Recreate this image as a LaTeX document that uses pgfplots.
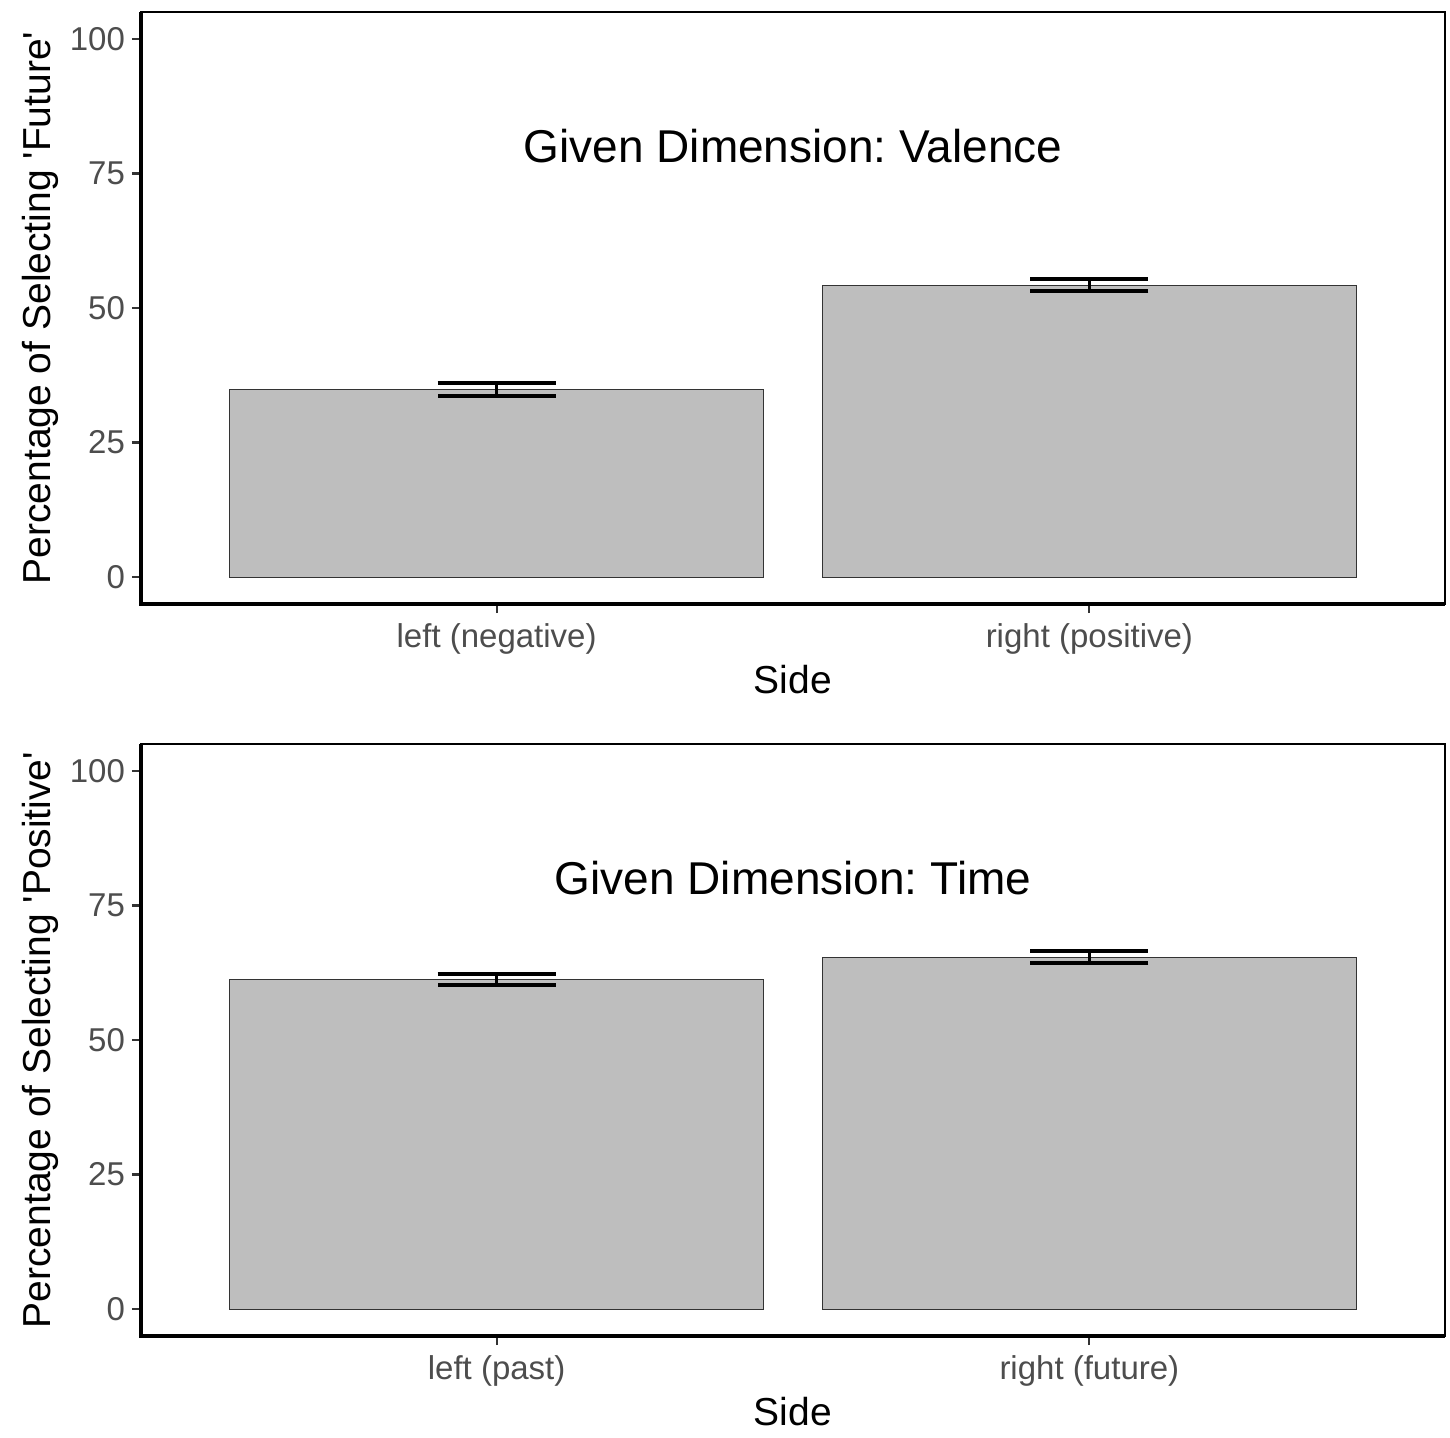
\documentclass[border=0pt]{standalone}
\usepackage{pgfplots}
\pgfplotsset{compat=1.18}
\usepackage{fontspec}
\setmainfont{Liberation Sans}
\frenchspacing
\definecolor{barfill}{HTML}{BEBEBE}
\definecolor{barline}{HTML}{333333}
\definecolor{ticklab}{HTML}{4D4D4D}
\definecolor{tickcol}{HTML}{333333}
\pgfplotsset{
  panel/.style={
    scale only axis,
    width=652pt, height=296pt,
    xmin=0.4, xmax=2.6, ymin=-5, ymax=105,
    ybar, bar width=0.9,
    xtick={1,2}, ytick={0,25,50,75,100},
    tick align=outside, xtick pos=bottom, ytick pos=left,
    major tick length=4.5pt,
    tick style={line width=1.1pt, color=tickcol},
    axis line style={line width=0.9pt, black},
    tick label style={font=\fontsize{16.5}{19}\selectfont, color=ticklab},
    xticklabel style={yshift=-2pt},
    /pgf/number format/assume math mode=true,
    label style={font=\fontsize{19.5}{23}\selectfont, color=black},
    xlabel={Side},
    xlabel style={at={(axis description cs:0.5,-0.128)}, anchor=center},
    ylabel style={at={(axis description cs:-0.0775,0.5)}, anchor=center, rotate=0},
    clip=false,
    error bars/y dir=both, error bars/y explicit,
    error bars/error bar style={line width=1.4pt, black},
    error bars/error mark=|,
    error bars/error mark options={line width=2pt, black, mark size=29.5pt},
  }
}
\begin{document}
\begin{tikzpicture}
\useasboundingbox (0,0) rectangle (725pt,-719pt);
\begin{axis}[panel, at={(70.5pt,-6pt)}, anchor=north west,
  xticklabels={left (negative), right (positive)},
  ylabel={Percentage of Selecting \textquotesingle Future\textquotesingle}]
\addplot[fill=barfill, draw=barline, line width=0.5pt] coordinates {
  (1,34.8) +- (0,1.2)
  (2,54.2) +- (0,1.1)
};
\draw[line width=1.75pt, black] (rel axis cs:0,1) -- (rel axis cs:0,0) -- (rel axis cs:1,0);
\node[font=\fontsize{23}{27}\selectfont] at (axis cs:1.5,80) {Given Dimension: Valence};
\end{axis}
\begin{axis}[panel, at={(70.5pt,-372pt)}, anchor=north west,
  xticklabels={left (past), right (future)},
  ylabel={Percentage of Selecting \textquotesingle Positive\textquotesingle}]
\addplot[fill=barfill, draw=barline, line width=0.5pt] coordinates {
  (1,61.2) +- (0,1.0)
  (2,65.4) +- (0,1.1)
};
\draw[line width=1.75pt, black] (rel axis cs:0,1) -- (rel axis cs:0,0) -- (rel axis cs:1,0);
\node[font=\fontsize{23}{27}\selectfont] at (axis cs:1.5,80) {Given Dimension: Time};
\end{axis}
\end{tikzpicture}
\end{document}
